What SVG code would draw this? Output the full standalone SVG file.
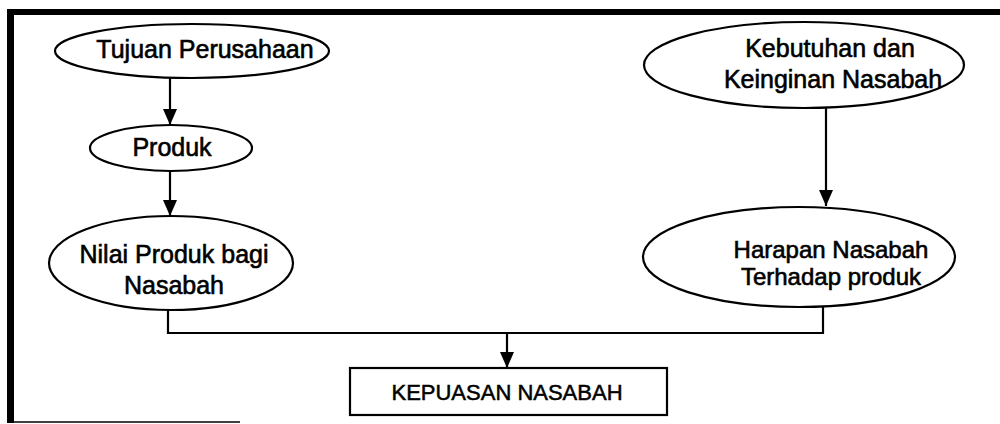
<svg xmlns="http://www.w3.org/2000/svg" width="1000" height="424" viewBox="0 0 1000 424">
  <style>
    .node { fill: #fff; stroke: #000; stroke-width: 2.2; }
    .label { font-family: "Liberation Sans", Arial, sans-serif; font-size: 25px; fill: #000; stroke: #000; stroke-width: 0.6; }
    .label-tight { font-size: 24px; }
    .box-label { font-family: "Liberation Sans", Arial, sans-serif; font-size: 22px; fill: #000; stroke: #000; stroke-width: 0.5; }
    .wire { fill: none; stroke: #000; stroke-width: 2.2; }
  </style>
  <defs>
    <marker id="arrow" viewBox="0 0 16 14" refX="16" refY="7" markerWidth="16" markerHeight="14" markerUnits="userSpaceOnUse" orient="auto">
      <path d="M0,0 L16,7 L0,14 Z" fill="#000"/>
    </marker>
  </defs>

  <rect width="1000" height="424" fill="#fff"/>

  <!-- outer frame: heavy top and left rules, thin bottom rule -->
  <g id="frame">
    <rect x="7" y="9" width="993" height="6" fill="#000"/>
    <rect x="7" y="9" width="7" height="414" fill="#000"/>
    <line x1="7" y1="422" x2="240" y2="422" stroke="#000" stroke-width="1.5"/>
  </g>

  <!-- connectors -->
  <g id="connectors">
    <line class="wire" x1="170" y1="78" x2="170" y2="125" marker-end="url(#arrow)"/>
    <line class="wire" x1="170" y1="171" x2="170" y2="216" marker-end="url(#arrow)"/>
    <line class="wire" x1="826" y1="108" x2="826" y2="206" marker-end="url(#arrow)"/>
    <polyline class="wire" points="168,310 168,333 823,333 823,306"/>
    <line class="wire" x1="507" y1="333" x2="507" y2="368" marker-end="url(#arrow)"/>
  </g>

  <g id="tujuan-perusahaan">
    <ellipse class="node" cx="192" cy="51" rx="137" ry="27"/>
    <text class="label" x="205" y="58" text-anchor="middle">Tujuan Perusahaan</text>
  </g>

  <g id="produk">
    <ellipse class="node" cx="171" cy="148" rx="81" ry="23"/>
    <text class="label" x="172" y="156" text-anchor="middle">Produk</text>
  </g>

  <g id="nilai-produk">
    <ellipse class="node" cx="171" cy="263" rx="122" ry="47"/>
    <text class="label" x="174" y="263" text-anchor="middle">Nilai Produk bagi</text>
    <text class="label" x="174" y="294" text-anchor="middle">Nasabah</text>
  </g>

  <g id="kebutuhan-keinginan">
    <ellipse class="node" cx="804" cy="65" rx="160" ry="43"/>
    <text class="label" x="830" y="57" text-anchor="middle">Kebutuhan dan</text>
    <text class="label" x="833" y="88" text-anchor="middle">Keinginan Nasabah</text>
  </g>

  <g id="harapan-nasabah">
    <ellipse class="node" cx="799" cy="257" rx="156" ry="50"/>
    <text class="label label-tight" x="831" y="258" text-anchor="middle">Harapan Nasabah</text>
    <text class="label label-tight" x="831" y="285" text-anchor="middle">Terhadap produk</text>
  </g>

  <g id="kepuasan-nasabah">
    <rect class="node" x="350" y="368" width="317" height="47"/>
    <text class="box-label" x="507" y="400" text-anchor="middle">KEPUASAN NASABAH</text>
  </g>
</svg>
